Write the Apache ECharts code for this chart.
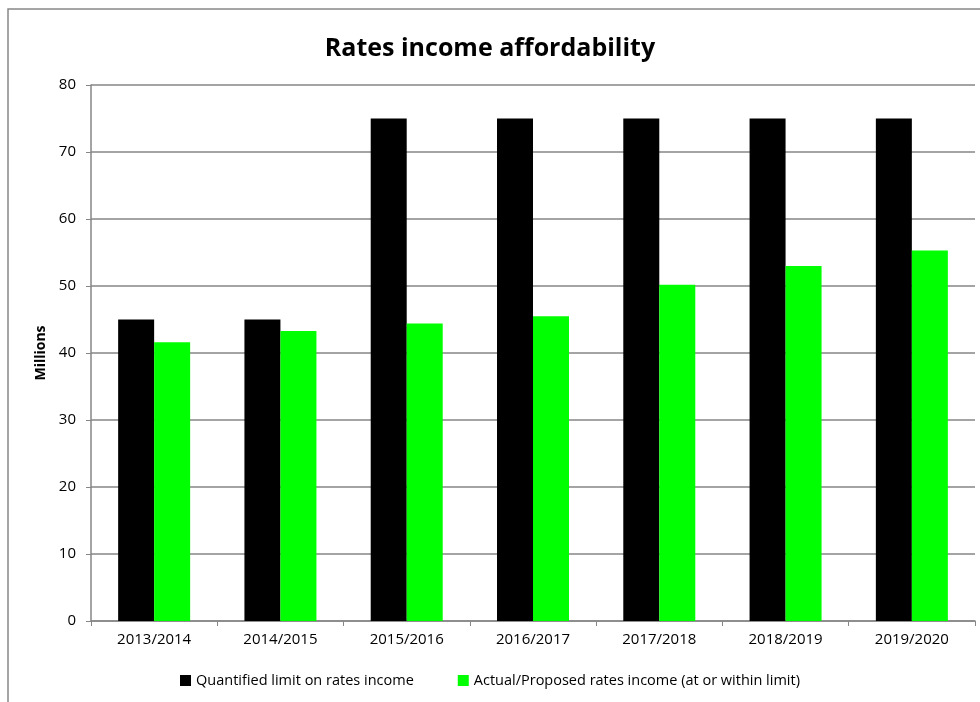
<!DOCTYPE html>
<html><head><meta charset="utf-8">
<script src="https://cdn.jsdelivr.net/npm/echarts@6/dist/echarts.min.js"></script>
<style>html,body{margin:0;padding:0;background:#fff}#c{width:980px;height:702px}</style>
</head><body><div id="c"></div>
<script>
const categories = ['2013/2014','2014/2015','2015/2016','2016/2017','2017/2018','2018/2019','2019/2020'];
const limitValues = [45, 45, 75, 75, 75, 75, 75];
const actualValues = [41.6, 43.3, 44.4, 45.5, 50.2, 53.0, 55.3];
const seriesNames = ['Quantified limit on rates income', 'Actual/Proposed rates income (at or within limit)'];
const yTicks = {min: 0, max: 80, interval: 10};
const FONT = '"Open Sans", sans-serif';
const chart = echarts.init(document.getElementById('c'));
chart.setOption({
  animation: false,
  backgroundColor: '#fff',
  title: {text: 'Rates income affordability', left: 'center', top: 31,
    textStyle: {fontFamily: FONT, fontSize: 25, fontWeight: 'bold', color: '#000'}},
  graphic: [{type: 'rect', shape: {x: 8, y: 9, width: 1100, height: 900},
    style: {fill: 'none', stroke: '#888', lineWidth: 1.5}, z: -1, silent: true}],
  grid: {left: 91, right: 5, top: 85, bottom: 81, containLabel: false},
  legend: {bottom: 9, left: 'center', itemWidth: 11, itemHeight: 11, itemGap: 44,
    icon: 'rect', textStyle: {fontFamily: FONT, fontSize: 14.5, color: '#000'},
    data: seriesNames},
  xAxis: {type: 'category', data: categories, boundaryGap: true,
    axisLine: {lineStyle: {color: '#868686', width: 1.5}},
    axisTick: {show: true, length: 5, lineStyle: {color: '#868686'}},
    axisLabel: {fontFamily: FONT, fontSize: 15, color: '#000', margin: 11}},
  yAxis: {type: 'value', min: yTicks.min, max: yTicks.max, interval: yTicks.interval,
    name: 'Millions', nameLocation: 'middle', nameGap: 37,
    nameTextStyle: {fontFamily: FONT, fontSize: 14, fontWeight: 'bold', color: '#000'},
    axisLine: {show: true, lineStyle: {color: '#868686', width: 1.5}},
    axisTick: {show: true, length: 5, lineStyle: {color: '#868686'}},
    axisLabel: {fontFamily: FONT, fontSize: 15, color: '#000', margin: 15},
    splitLine: {lineStyle: {color: '#868686', width: 1.5}}},
  series: [
    {name: seriesNames[0], type: 'bar', data: limitValues, barWidth: 36, barGap: '0%',
      itemStyle: {color: '#000'}},
    {name: seriesNames[1], type: 'bar', data: actualValues, barWidth: 36, barGap: '0%',
      itemStyle: {color: '#00ff00'}}
  ]
});
</script></body></html>
